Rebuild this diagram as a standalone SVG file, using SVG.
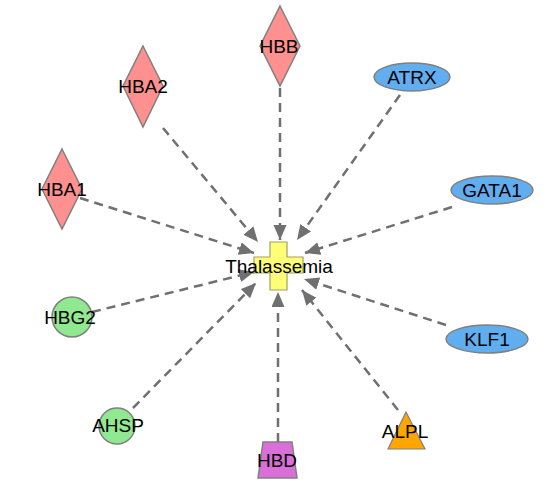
<svg xmlns="http://www.w3.org/2000/svg" width="552" height="495" viewBox="0 0 552 495">
<defs>
<style>
.e{stroke:#707070;stroke-width:2.5;stroke-dasharray:9,6;fill:none;marker-end:url(#ah)}
.lbl{font-family:"Liberation Sans",Arial,sans-serif;font-size:19px;fill:#000;text-anchor:middle}
.dia{fill:#FF9090;stroke:#808080;stroke-width:1.5}
.ell{fill:#60AEF0;stroke:#808080;stroke-width:1.5}
.cir{fill:#90E890;stroke:#808080;stroke-width:1.5}
</style>
<marker id="ah" markerUnits="userSpaceOnUse" markerWidth="16" markerHeight="14" refX="15" refY="6.5" orient="auto">
<path d="M0,0 L15,6.5 L0,13 z" fill="#707070"/>
</marker>
</defs>
<rect width="552" height="495" fill="#fff"/>
<g id="edges">
<line class="e" x1="280" y1="88" x2="280" y2="240"/>
<line class="e" x1="163" y1="128" x2="258" y2="242"/>
<line class="e" x1="80" y1="198" x2="254" y2="253"/>
<line class="e" x1="92" y1="312" x2="254" y2="272"/>
<line class="e" x1="133" y1="408" x2="256" y2="283"/>
<line class="e" x1="278" y1="442" x2="278" y2="292"/>
<line class="e" x1="398" y1="410" x2="302" y2="290"/>
<line class="e" x1="446" y1="325" x2="304" y2="279"/>
<line class="e" x1="452" y1="207" x2="305" y2="253"/>
<line class="e" x1="400" y1="95" x2="297" y2="240"/>
</g>
<g id="Thalassemia">
<path d="M270,242 H287 V257 H303 V273 H287 V290 H270 V273 H254 V257 H270 Z" fill="#FFFF77" stroke="#A0A060" stroke-width="1.2"/>
<text class="lbl" x="279" y="273">Thalassemia</text>
</g>
<g id="HBB">
<path class="dia" d="M280,6 L300,46 L280,86 L260,46 Z"/>
<text class="lbl" x="279" y="53">HBB</text>
</g>
<g id="HBA2">
<path class="dia" d="M143,46 L163,86 L143,127 L123,86 Z"/>
<text class="lbl" x="143" y="93">HBA2</text>
</g>
<g id="HBA1">
<path class="dia" d="M62,149 L82,189 L62,229 L42,189 Z"/>
<text class="lbl" x="62" y="196">HBA1</text>
</g>
<g id="ATRX">
<ellipse class="ell" cx="412" cy="77" rx="38" ry="14"/>
<text class="lbl" x="412" y="84">ATRX</text>
</g>
<g id="GATA1">
<ellipse class="ell" cx="492" cy="190" rx="41" ry="14"/>
<text class="lbl" x="492" y="197">GATA1</text>
</g>
<g id="KLF1">
<ellipse class="ell" cx="487" cy="339" rx="41" ry="14"/>
<text class="lbl" x="487" y="346">KLF1</text>
</g>
<g id="HBG2">
<circle class="cir" cx="72" cy="317" r="20"/>
<text class="lbl" x="70" y="324">HBG2</text>
</g>
<g id="AHSP">
<circle class="cir" cx="117" cy="426" r="18"/>
<text class="lbl" x="118" y="432">AHSP</text>
</g>
<g id="HBD">
<path d="M263,442 H292 L297,478 H258 Z" fill="#DA6FDA" stroke="#808080" stroke-width="1.5"/>
<text class="lbl" x="277" y="467">HBD</text>
</g>
<g id="ALPL">
<path d="M406,412 L425,449 L388,449 Z" fill="#FFA500" stroke="#808080" stroke-width="1.2"/>
<text class="lbl" x="405" y="438">ALPL</text>
</g>
</svg>
